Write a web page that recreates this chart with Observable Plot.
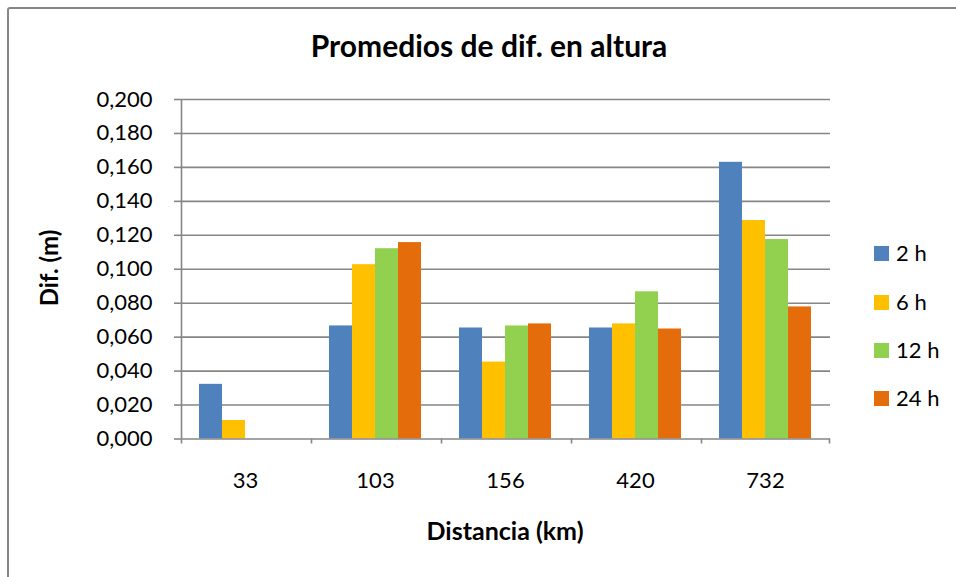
<!DOCTYPE html>
<html>
<head>
<meta charset="utf-8">
<script src="https://cdn.jsdelivr.net/npm/d3@7"></script>
<script src="https://cdn.jsdelivr.net/npm/@observablehq/plot@0.6"></script>
<style>
  html, body { margin: 0; padding: 0; background: #fff; }
  #wrap { position: relative; width: 956px; height: 577px; overflow: hidden; font-family: Lato, "Open Sans", sans-serif; color: #000; }
  #border { position: absolute; left: 7px; top: 7px; width: 1000px; height: 1000px; border: 2px solid #868686; border-radius: 3px; box-sizing: border-box; }
  #chart { position: absolute; left: 0; top: 0; }
  .txt { position: absolute; white-space: nowrap; line-height: 1; }
  #title { font-size: 30px; font-weight: 700; left: 489px; top: 30px; transform: translateX(-50%); }
  #xlabel { font-size: 25px; font-weight: 700; left: 505px; top: 518px; transform: translateX(-50%); }
  #ylabel { font-size: 24px; font-weight: 700; left: 49px; top: 268px; transform: translate(-50%, -50%) rotate(-90deg); }
  #legend { position: absolute; left: 874px; top: 0; }
  .item { position: absolute; left: 0; display: flex; align-items: center; height: 22px; font-size: 22px; line-height: 22px; white-space: nowrap; }
  .sw { width: 15px; height: 15px; margin-right: 7px; flex: none; }
</style>
</head>
<body>
<div id="wrap">
  <div id="border"></div>
  <div id="chart"></div>
  <div id="title" class="txt">Promedios de dif. en altura</div>
  <div id="ylabel" class="txt">Dif. (m)</div>
  <div id="xlabel" class="txt">Distancia (km)</div>
  <div id="legend"></div>
</div>
<script>
// ---- data ----
const categories = ["33", "103", "156", "420", "732"];
const series = ["2 h", "6 h", "12 h", "24 h"];
const colors = ["#4F81BD", "#FFC000", "#92D050", "#E46C0A"];
const values2h  = [0.0322, 0.0666, 0.0654, 0.0654, 0.1630];
const values6h  = [0.0109, 0.1027, 0.0453, 0.0678, 0.1287];
const values12h = [null,   0.1121, 0.0666, 0.0867, 0.1175];
const values24h = [null,   0.1157, 0.0678, 0.0648, 0.0778];
const yTicks = [0, 0.02, 0.04, 0.06, 0.08, 0.10, 0.12, 0.14, 0.16, 0.18, 0.20];

const seriesValues = [values2h, values6h, values12h, values24h];
const table = [];
categories.forEach((c, i) => {
  series.forEach((s, j) => {
    const v = seriesValues[j][i];
    if (v != null) table.push({dist: c, series: s, value: v});
  });
});

const gray = "#868686";
const fmt = d => d.toFixed(3).replace(".", ",");
// offset from first/last bar centre to the category boundary (half step + outer padding)
const edge = 29.5;

const chart = Plot.plot({
  width: 956,
  height: 577,
  marginLeft: 178,
  marginRight: 124,
  marginTop: 99,
  marginBottom: 138.5,
  style: {fontFamily: "Lato, 'Open Sans', sans-serif", fontSize: "22px", color: "#000", background: "transparent"},
  fx: {domain: categories, padding: 0, label: null},
  x: {domain: series, paddingInner: 0, paddingOuter: 0.73, axis: null},
  y: {domain: [0, 0.2], label: null},
  color: {domain: series, range: colors},
  marks: [
    Plot.ruleY(yTicks.slice(1), {stroke: gray, strokeWidth: 1.6}),
    Plot.barY(table, {fx: "dist", x: "series", y: "value", fill: "series"}),
    Plot.ruleY([0], {stroke: gray, strokeWidth: 1.6}),
    Plot.ruleX(categories, {fx: d => d, x: () => series[0], dx: -edge, y1: 0, y2: 0, insetBottom: -5, stroke: gray, strokeWidth: 1.6}),
    Plot.ruleX(categories.slice(-1), {fx: d => d, x: () => series[series.length - 1], dx: edge, y1: 0, y2: 0, insetBottom: -5, stroke: gray, strokeWidth: 1.6}),
    Plot.ruleX(categories.slice(0, 1), {fx: d => d, x: () => series[0], dx: -edge, y1: 0.2, y2: 0, stroke: gray, strokeWidth: 1.6}),
    Plot.axisY({ticks: yTicks, tickFormat: fmt, tickSize: 6, tickPadding: 22, stroke: gray, strokeWidth: 1.6, fontSize: 22, label: null}),
    Plot.axisFx({anchor: "bottom", tickSize: 0, tickPadding: 33, fontSize: 22, label: null})
  ]
});
document.getElementById("chart").appendChild(chart);

// legend
const legend = document.getElementById("legend");
const rowCenters = [253, 302, 350, 398];
series.forEach((s, i) => {
  const it = document.createElement("div");
  it.className = "item";
  it.style.top = (rowCenters[i] - 11) + "px";
  it.innerHTML = `<span class="sw" style="background:${colors[i]}"></span><span>${s}</span>`;
  legend.appendChild(it);
});
</script>
</body>
</html>
